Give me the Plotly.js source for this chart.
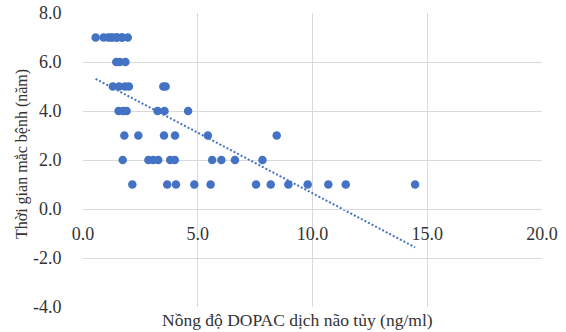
<!DOCTYPE html>
<html>
<head>
<meta charset="utf-8">
<script src="https://cdn.plot.ly/plotly-3.0.1.min.js"></script>
<style>html,body{margin:0;padding:0;background:#fff;}</style>
</head>
<body>
<div id="chart" style="width:566px;height:332px;"></div>
<script>
// DOPAC concentration (ng/ml) and disease duration (years)
const dopac = [
  0.55, 0.9, 1.1, 1.2, 1.3, 1.45, 1.5, 1.7, 1.7, 1.95,
  1.45, 1.6, 1.85,
  1.3, 1.57, 1.83, 2.0, 3.5, 3.6,
  1.55, 1.75, 1.9, 3.25, 3.55, 4.58,
  1.8, 2.41, 3.53, 4.01, 5.44, 8.44,
  1.73, 2.85, 3.06, 3.28, 3.8, 4.0, 5.63, 6.03, 6.62, 7.82,
  2.15, 3.67, 4.05, 4.85, 5.56, 7.54, 8.18, 8.95, 9.79, 10.69, 11.45, 14.47
];
const years = [
  7, 7, 7, 7, 7, 7, 7, 7, 7, 7,
  6, 6, 6,
  5, 5, 5, 5, 5, 5,
  4, 4, 4, 4, 4, 4,
  3, 3, 3, 3, 3, 3,
  2, 2, 2, 2, 2, 2, 2, 2, 2, 2,
  1, 1, 1, 1, 1, 1, 1, 1, 1, 1, 1, 1
];
const xTickVals = [0, 5, 10, 15, 20];
const xTickText = ['0.0', '5.0', '10.0', '15.0', '20.0'];
const yTickVals = [-4, -2, 0, 2, 4, 6, 8];
const yTickText = ['-4.0', '-2.0', '0.0', '2.0', '4.0', '6.0', '8.0'];
const xTitle = 'Nồng độ DOPAC dịch não tủy (ng/ml)';
const yTitle = 'Thời gian mắc bệnh (năm)';

// linear least-squares trend line
const n = dopac.length;
const mx = dopac.reduce((a, b) => a + b, 0) / n;
const my = years.reduce((a, b) => a + b, 0) / n;
let sxy = 0, sxx = 0;
for (let i = 0; i < n; i++) { sxy += (dopac[i] - mx) * (years[i] - my); sxx += (dopac[i] - mx) ** 2; }
const slope = sxy / sxx, intercept = my - slope * mx;
const xmin = Math.min(...dopac), xmax = Math.max(...dopac);
const trendX = [xmin, xmax];
const trendY = trendX.map(x => intercept + slope * x);

const blue = '#4472C4';
const SERIF = 'Liberation Serif';
function f(size) { return {family: SERIF, size: size, color: '#333333'}; }

const traces = [
  {x: dopac, y: years, type: 'scatter', mode: 'markers', xaxis: 'x', yaxis: 'y',
   marker: {color: blue, size: 8.5}, hoverinfo: 'x+y'},
  {x: trendX, y: trendY, type: 'scatter', mode: 'lines', xaxis: 'x2', yaxis: 'y',
   line: {color: blue, width: 2, dash: '2px,2px'}, hoverinfo: 'skip'}
];

const layout = {
  width: 566, height: 332,
  margin: {l: 83, r: 24, t: 13, b: 25},
  paper_bgcolor: '#fff', plot_bgcolor: '#fff',
  showlegend: false,
  font: f(18),
  xaxis: {
    range: [0, 20], tickvals: xTickVals, ticktext: xTickText,
    showticklabels: false, showgrid: true, gridcolor: '#d9d9d9', gridwidth: 1,
    zeroline: false, showline: false, ticks: '', automargin: false
  },
  xaxis2: {
    range: [0, 20], matches: 'x', overlaying: 'x', anchor: 'free', position: 4 / 12,
    tickvals: xTickVals, ticktext: xTickText, tickfont: f(18),
    showgrid: false, zeroline: false, showline: true, linecolor: '#d9d9d9', linewidth: 1,
    ticks: 'outside', ticklen: 8, tickcolor: 'rgba(0,0,0,0)', automargin: false
  },
  yaxis: {
    range: [-4, 8], tickvals: yTickVals, ticktext: yTickText, tickfont: f(18),
    showgrid: true, gridcolor: '#d9d9d9', gridwidth: 1,
    zeroline: false, showline: false,
    ticks: 'outside', ticklen: 17, tickcolor: 'rgba(0,0,0,0)', automargin: false
  },
  annotations: [
    {text: xTitle, xref: 'paper', yref: 'paper', x: 0.467, y: -0.044,
     xanchor: 'center', yanchor: 'middle', showarrow: false, font: f(17.5)},
    {text: yTitle, xref: 'paper', yref: 'paper', x: -0.133, y: 0.52,
     xanchor: 'center', yanchor: 'middle', textangle: -90, showarrow: false, font: f(16)}
  ]
};

Plotly.newPlot('chart', traces, layout, {displayModeBar: false, staticPlot: true});
</script>
</body>
</html>
